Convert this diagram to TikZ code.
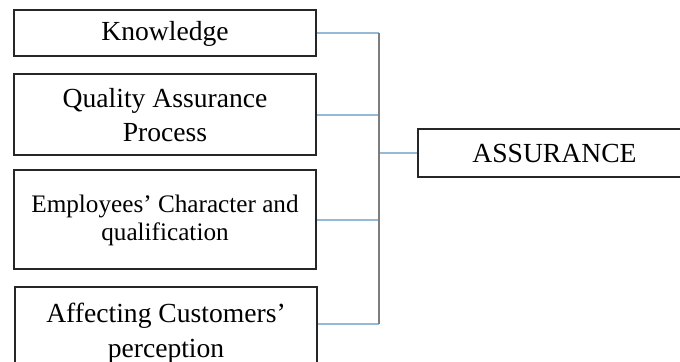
\documentclass[tikz,border=0pt]{standalone}
\usepackage{fontspec}
\setmainfont{Liberation Serif}
\usetikzlibrary{positioning}
\definecolor{linkblue}{RGB}{150,185,214}
\definecolor{busgray}{RGB}{125,125,125}

\begin{document}
\begin{tikzpicture}[
    x=0.5pt, y=-0.5pt,
    node distance=8pt,
    box/.style={rectangle, draw=black!85, line width=1pt, minimum width=151pt,
        align=center, inner sep=2pt, font=\fontsize{13.8}{17}\selectfont},
    link/.style={draw=linkblue, line width=1pt},
    bus/.style={draw=busgray, line width=1pt}
]
\useasboundingbox (0,0) rectangle (680,362);
\clip (0,0) rectangle (680,362);

\node[box, minimum height=23pt] (know) at (165,33.5) {Knowledge};
\node[box, minimum height=40.5pt, below=8pt of know] (qap) {Quality Assurance\\Process};
\node[box, minimum height=49.5pt, below=6.5pt of qap,
    font=\fontsize{12.6}{14}\selectfont] (emp) {Employees’ Character and\\qualification};
\node[box, minimum height=46pt, below=8pt of emp, xshift=0.5pt,
    font=\fontsize{13.8}{17.5}\selectfont] (aff) {Affecting Customers’\\perception};
\node[box, minimum width=136.5pt, minimum height=24pt] (assur) at (554.5,153.5) {ASSURANCE};

% bus ends
\coordinate (bt) at (379,33);
\coordinate (bb) at (379,324);

\draw[link] (know.east) -- (know.east -| bt);
\draw[link] (qap.east) -- (qap.east -| bt);
\draw[link] (emp.east) -- (emp.east -| bt);
\draw[link] (aff.east |- bb) -- (bb);
\draw[link] (assur.west) -- (assur.west -| bt);
\draw[bus] (bt) -- (bb);

\end{tikzpicture}
\end{document}
